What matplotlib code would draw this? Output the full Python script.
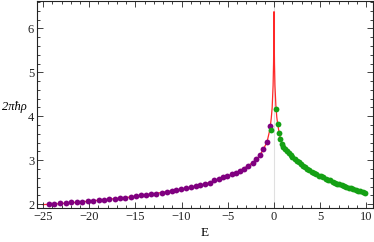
import numpy as np
import matplotlib
matplotlib.use("Agg")
import matplotlib.pyplot as plt
from matplotlib.ticker import MultipleLocator

# exact density (red curve)
curve_E = [-25, -24, -22, -20, -18, -16, -14, -12, -10, -8, -7, -6, -5, -4, -3,
           -2.5, -2, -1.5, -1.15, -0.75, -0.5, -0.4, -0.3, -0.2, -0.1, -0.05,
           -0.02, 0, 0.02, 0.05, 0.1, 0.2, 0.3, 0.4, 0.55, 0.7, 0.86, 1.0, 1.5,
           2, 3, 4, 5, 6, 7, 8, 9, 10]
curve_rho = [1.99, 2.00, 2.03, 2.07, 2.11, 2.15, 2.21, 2.27, 2.34, 2.43, 2.49,
             2.57, 2.64, 2.73, 2.85, 2.92, 3.00, 3.12, 3.25, 3.42, 3.65, 3.78,
             3.95, 4.20, 4.70, 5.20, 5.80, 6.38, 5.80, 5.20, 4.70, 4.25, 3.98,
             3.82, 3.63, 3.49, 3.38, 3.30, 3.18, 3.07, 2.89, 2.75, 2.64, 2.54,
             2.46, 2.38, 2.31, 2.25]

# bound-side levels (purple)
purple_E = [-24.30, -23.77, -23.16, -22.55, -21.95, -21.35, -20.75, -20.16,
            -19.57, -18.98, -18.39, -17.81, -17.23, -16.65, -16.08, -15.51,
            -14.94, -14.38, -13.82, -13.27, -12.72, -12.17, -11.63, -11.09,
            -10.56, -10.03, -9.51, -8.99, -8.47, -7.96, -7.46, -6.96, -6.47,
            -6.00, -5.57, -5.07, -4.60, -4.13, -3.67, -3.24, -2.77, -2.30,
            -1.90, -1.50, -1.15, -0.75, -0.43]
purple_rho = [2.00, 2.01, 2.02, 2.03, 2.04, 2.05, 2.06, 2.07, 2.08, 2.09, 2.10,
              2.11, 2.12, 2.14, 2.15, 2.17, 2.18, 2.20, 2.21, 2.23, 2.24, 2.26,
              2.28, 2.30, 2.32, 2.34, 2.36, 2.39, 2.41, 2.44, 2.46, 2.49, 2.55,
              2.58, 2.61, 2.64, 2.68, 2.71, 2.76, 2.81, 2.87, 2.94, 3.03, 3.13,
              3.25, 3.42, 3.78]

# scattering-side levels (green)
green_E = [-0.38, 0.22, 0.38, 0.55, 0.70, 0.86, 1.00, 1.20, 1.40, 1.60, 1.80,
           2.00, 2.22, 2.44, 2.66, 2.89, 3.12, 3.36, 3.60, 3.84, 4.08, 4.33,
           4.58, 4.83, 5.08, 5.33, 5.58, 5.83, 6.08, 6.33, 6.58, 6.83, 7.08,
           7.33, 7.58, 7.83, 8.08, 8.33, 8.58, 8.83, 9.08, 9.33, 9.58, 9.83]
green_rho = [3.68, 4.16, 3.83, 3.63, 3.49, 3.38, 3.30, 3.25, 3.20, 3.16, 3.12,
             3.07, 3.03, 2.99, 2.95, 2.91, 2.87, 2.84, 2.80, 2.77, 2.74, 2.71,
             2.68, 2.65, 2.63, 2.61, 2.58, 2.56, 2.54, 2.51, 2.49, 2.47, 2.45,
             2.43, 2.41, 2.39, 2.37, 2.36, 2.34, 2.32, 2.31, 2.29, 2.27, 2.26]

SERIF = ["Liberation Serif", "DejaVu Serif"]
plt.rcParams["font.family"] = SERIF

fig = plt.figure(figsize=(3.74, 2.42), dpi=100)
ax = fig.add_axes([0.099, 0.14, 0.898, 0.857])

ax.axvline(0, color="#e0e0e0", lw=0.8, zorder=0)
ax.plot(curve_E, curve_rho, color="#ff2828", lw=0.9, zorder=1)
ax.plot(purple_E, purple_rho, "o", color="#800080", ms=4.2, mec="none", zorder=2)
ax.plot(green_E, green_rho, "o", color="#14a014", ms=4.2, mec="none", zorder=3)

ax.set_xlim(-25.65, 10.7)
ax.set_ylim(1.91, 6.63)
ax.xaxis.set_major_locator(MultipleLocator(5))
ax.xaxis.set_minor_locator(MultipleLocator(1))
ax.yaxis.set_major_locator(MultipleLocator(1))
ax.yaxis.set_minor_locator(MultipleLocator(0.2))
ax.tick_params(which="both", direction="in", top=True, right=True,
               labelsize=9, width=0.6, colors="#222222")
ax.tick_params(which="major", length=4, pad=2)
ax.tick_params(which="minor", length=2)
ax.set_xticks([-25, -20, -15, -10, -5, 0, 5, 10])
ax.set_xticklabels(["\u221225", "\u221220", "\u221215", "\u221210", "\u22125",
                    "0", "5", "10"])
for s in ax.spines.values():
    s.set_linewidth(0.8)
    s.set_color("#222222")

fig.text(14 / 374, 1 - 107 / 242, "2\u03c0\u0127\u03c1", fontstyle="italic",
         fontsize=9, ha="center", va="center")
fig.text(205 / 374, 1 - 233 / 242, "E", fontsize=9.5, ha="center", va="center")

fig.savefig("out.png", dpi=100)
